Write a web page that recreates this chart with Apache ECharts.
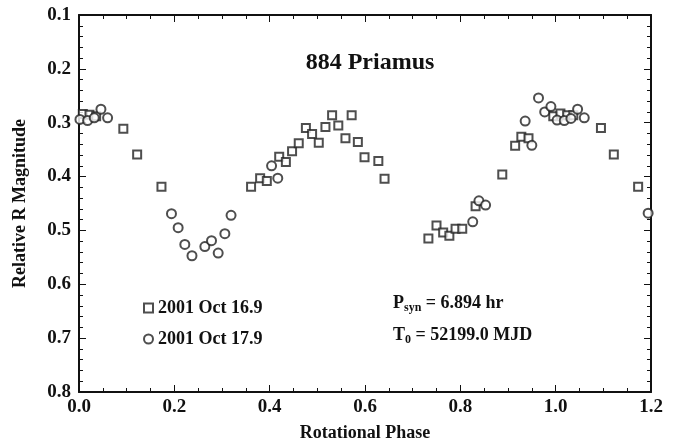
<!DOCTYPE html>
<html>
<head>
<meta charset="utf-8">
<script src="https://cdn.jsdelivr.net/npm/echarts@6/dist/echarts.min.js"></script>
<style>
  html, body { margin: 0; padding: 0; background: #fff; }
  #chart { width: 676px; height: 447px; }
</style>
</head>
<body>
<div id="chart"></div>
<script>
// 2001 Oct 16.9 (squares): [phase, relative R mag]
const oct16Phase = [0.008, 0.022, 0.036, 0.093, 0.122, 0.173, 0.361, 0.380, 0.394, 0.420, 0.434, 0.447, 0.461, 0.476, 0.489, 0.503, 0.517, 0.531, 0.544, 0.559, 0.572, 0.585, 0.599, 0.628, 0.641, 0.733, 0.750, 0.764, 0.777, 0.790, 0.804, 0.832, 0.888, 0.915, 0.928, 0.943, 0.995, 1.010, 1.024, 1.037, 1.095, 1.122, 1.173]
const oct16Mag = [0.284, 0.285, 0.288, 0.311, 0.359, 0.419, 0.419, 0.403, 0.408, 0.363, 0.373, 0.353, 0.338, 0.310, 0.321, 0.337, 0.308, 0.286, 0.305, 0.329, 0.286, 0.336, 0.364, 0.371, 0.404, 0.515, 0.491, 0.504, 0.510, 0.497, 0.497, 0.455, 0.396, 0.343, 0.326, 0.329, 0.288, 0.283, 0.286, 0.286, 0.310, 0.359, 0.419]

// 2001 Oct 17.9 (circles)
const oct17Phase = [0.002, 0.018, 0.032, 0.046, 0.060, 0.194, 0.208, 0.222, 0.237, 0.264, 0.278, 0.292, 0.306, 0.319, 0.404, 0.417, 0.826, 0.839, 0.853, 0.936, 0.950, 0.964, 0.977, 0.990, 1.003, 1.018, 1.032, 1.046, 1.060, 1.194]
const oct17Mag = [0.294, 0.296, 0.291, 0.275, 0.291, 0.469, 0.495, 0.526, 0.547, 0.530, 0.519, 0.542, 0.506, 0.472, 0.380, 0.403, 0.484, 0.445, 0.453, 0.297, 0.342, 0.254, 0.280, 0.270, 0.295, 0.296, 0.292, 0.275, 0.291, 0.468]

const xTicks = { min: 0, max: 1.2, step: 0.2 }
const yTicks = { min: 0.1, max: 0.8, step: 0.1 }

const font = 'Liberation Serif'
const zip = (a, b) => a.map((v, i) => [v, b[i]])

const chart = echarts.init(document.getElementById('chart'))

const axisCommon = {
  axisLine: { show: true, onZero: false, lineStyle: { color: '#111', width: 2 } },
  axisTick: { show: true, inside: true, length: 7, lineStyle: { color: '#111', width: 1 } },
  minorTick: { show: true, length: 4, lineStyle: { color: '#111', width: 1 } },
  splitLine: { show: false }
}
const labelStyle = { fontFamily: font, fontWeight: 'bold', fontSize: 19, color: '#111' }
const nameStyle = { fontFamily: font, fontWeight: 'bold', fontSize: 18, color: '#111' }
const subRich = { s: { fontFamily: font, fontWeight: 'bold', fontSize: 12, fill: '#111', verticalAlign: 'bottom', padding: [9, 0, 0, 0] } }

chart.setOption({
  backgroundColor: '#fff',
  animation: false,
  title: {
    text: '884 Priamus',
    left: 365,
    textAlign: 'center',
    top: 46,
    textStyle: { fontFamily: font, fontWeight: 'bold', fontSize: 24, color: '#111' }
  },
  legend: {
    orient: 'vertical',
    left: 138,
    top: 294,
    itemGap: 13,
    itemWidth: 9,
    itemHeight: 9,
    textStyle: { fontFamily: font, fontWeight: 'bold', fontSize: 18, color: '#111' },
    data: ['2001 Oct 16.9', '2001 Oct 17.9']
  },
  grid: { left: 79, right: 25, top: 15, bottom: 53 },
  xAxis: [{
    ...axisCommon,
    type: 'value',
    min: xTicks.min,
    max: xTicks.max,
    interval: xTicks.step,
    minorTick: { ...axisCommon.minorTick, splitNumber: 4 },
    name: 'Rotational Phase',
    nameLocation: 'middle',
    nameGap: 32,
    nameTextStyle: nameStyle,
    axisLabel: { ...labelStyle, margin: 6, formatter: v => v.toFixed(1) }
  }, {
    ...axisCommon,
    type: 'value',
    position: 'top',
    min: xTicks.min,
    max: xTicks.max,
    interval: xTicks.step,
    minorTick: { ...axisCommon.minorTick, splitNumber: 4 },
    axisLabel: { show: false }
  }],
  yAxis: [{
    ...axisCommon,
    type: 'value',
    inverse: true,
    min: yTicks.min,
    max: yTicks.max,
    interval: yTicks.step,
    minorTick: { ...axisCommon.minorTick, splitNumber: 5 },
    name: 'Relative R Magnitude',
    nameLocation: 'middle',
    nameGap: 50,
    nameTextStyle: nameStyle,
    axisLabel: { ...labelStyle, margin: 8, formatter: v => v.toFixed(1) }
  }, {
    ...axisCommon,
    type: 'value',
    position: 'right',
    inverse: true,
    min: yTicks.min,
    max: yTicks.max,
    interval: yTicks.step,
    minorTick: { ...axisCommon.minorTick, splitNumber: 5 },
    axisLabel: { show: false }
  }],
  graphic: [{
    type: 'text',
    left: 393,
    top: 294,
    style: {
      text: 'P{s|syn} = 6.894 hr',
      fontFamily: font, fontWeight: 'bold', fontSize: 18, fill: '#111',
      rich: subRich
    }
  }, {
    type: 'text',
    left: 393,
    top: 326,
    style: {
      text: 'T{s|0} = 52199.0 MJD',
      fontFamily: font, fontWeight: 'bold', fontSize: 18, fill: '#111',
      rich: subRich
    }
  }],
  series: [{
    name: '2001 Oct 16.9',
    type: 'scatter',
    symbol: 'emptyRect',
    symbolSize: 8,
    itemStyle: { color: '#222', borderColor: '#222', borderWidth: 1 },
    data: zip(oct16Phase, oct16Mag)
  }, {
    name: '2001 Oct 17.9',
    type: 'scatter',
    symbol: 'emptyCircle',
    symbolSize: 9,
    itemStyle: { color: '#222', borderColor: '#222', borderWidth: 1 },
    data: zip(oct17Phase, oct17Mag)
  }]
})
</script>
</body>
</html>
